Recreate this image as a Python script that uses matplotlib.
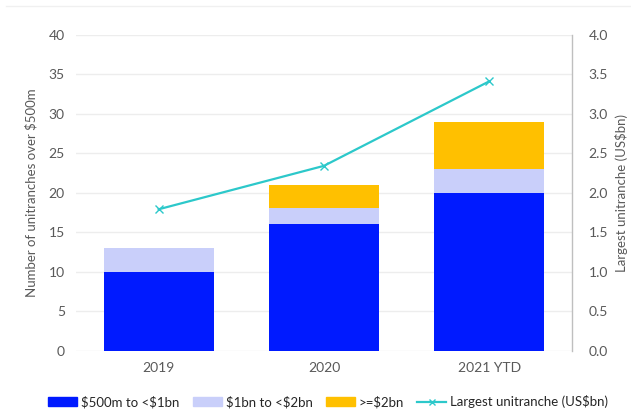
import matplotlib
matplotlib.use('Agg')
import matplotlib.pyplot as plt
import numpy as np
from matplotlib.lines import Line2D
from matplotlib.patches import Patch

plt.rcParams['font.family'] = ['Lato', 'DejaVu Sans']

categories = ['2019', '2020', '2021 YTD']
small = [10, 16, 20]        # $500m to <$1bn
mid = [3, 2, 3]             # $1bn to <$2bn
large = [0, 3, 6]           # >=$2bn
largest = [1.79, 2.34, 3.41]  # Largest unitranche (US$bn)

c_small = '#001AFF'
c_mid = '#C9CFFA'
c_large = '#FFC000'
c_line = '#2CC8CA'
txt = '#595959'

fig = plt.figure(figsize=(6.31, 4.16), dpi=100)
ax = fig.add_axes([0.1204, 0.157, 0.786, 0.7596])
x = np.arange(len(categories))
w = 0.665

b1 = np.array(small)
b2 = b1 + np.array(mid)
ax.bar(x, small, w, color=c_small, linewidth=0, zorder=2)
ax.bar(x, mid, w, bottom=b1, color=c_mid, linewidth=0, zorder=2)
ax.bar(x, large, w, bottom=b2, color=c_large, linewidth=0, zorder=2)

ax.set_xlim(-0.5, 2.5)
ax.set_ylim(0, 40)
ax.set_yticks(range(0, 41, 5))
ax.set_xticks(x)
ax.set_xticklabels(categories)
ax.grid(axis='y', color='#EDEDED', linewidth=1, zorder=0)
ax.set_axisbelow(True)
for s in ['top', 'left', 'bottom', 'right']:
    ax.spines[s].set_visible(False)
ax.tick_params(length=0, labelsize=10, colors=txt, pad=8)
ax.set_ylabel('Number of unitranches over \\$500m', fontsize=9.5, color=txt, labelpad=8)

ax2 = ax.twinx()
ax2.plot(x, largest, color=c_line, linewidth=1.6, marker='x', markersize=6, markeredgewidth=1, zorder=3)
ax2.set_ylim(0, 4.0)
ax2.set_yticks(np.arange(0, 4.01, 0.5))
ax2.set_yticklabels([f'{v:.1f}' for v in np.arange(0, 4.01, 0.5)])
for s in ['top', 'left', 'bottom']:
    ax2.spines[s].set_visible(False)
ax2.spines['right'].set_color('#BFBFBF')
ax2.spines['right'].set_linewidth(1)
ax2.tick_params(length=0, labelsize=10, colors=txt, pad=12)
ax2.set_ylabel('Largest unitranche (US\\$bn)', fontsize=9.5, color=txt, labelpad=5)

# faint top border
fig.add_artist(Line2D([0.01, 1.0], [0.985, 0.985], color='#F0F0F0', linewidth=1))

handles = [
    Patch(color=c_small, label='\\$500m to <\\$1bn'),
    Patch(color=c_mid, label='\\$1bn to <\\$2bn'),
    Patch(color=c_large, label='>=\\$2bn'),
    Line2D([0], [0], color=c_line, marker='x', markersize=5, linewidth=1.6, label='Largest unitranche (US\\$bn)'),
]
fig.legend(handles=handles, loc='lower center', bbox_to_anchor=(0.52, -0.01), ncol=4,
           frameon=False, fontsize=9.5, handlelength=2.2, handleheight=0.6,
           handletextpad=0.3, columnspacing=1.0, labelcolor='#262626')

fig.savefig('out.png', dpi=100)
plt.close()
